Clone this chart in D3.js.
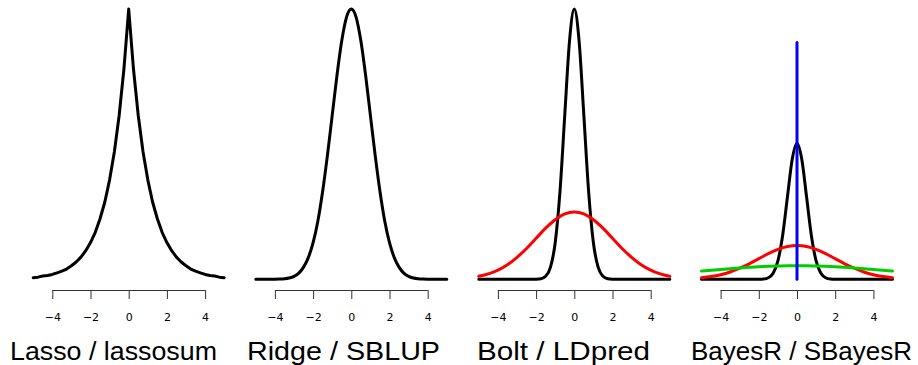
<!DOCTYPE html>
<html>
<head>
<meta charset="utf-8">
<script src="https://cdn.jsdelivr.net/npm/d3@7"></script>
<style>
  body { margin: 0; background: #fff; }
  .tick text { font-family: "DejaVu Sans", sans-serif; font-size: 11px; }
  .title { font-family: "Liberation Sans", Arial, sans-serif; font-size: 26px; }
</style>
</head>
<body>
<div id="frame_div"></div>
<script>
// Four prior shapes, one panel each

const FRAME_WIDTH = 918;
const FRAME_HEIGHT = 365;

// --- data ---
const TITLES = ["Lasso / lassosum", "Ridge / SBLUP", "Bolt / LDpred", "BayesR / SBayesR"];
const TICKS = [-4, -2, 0, 2, 4];

const X_FINE = [-5, -4.75, -4.5, -4.25, -4, -3.75, -3.5, -3.25, -3, -2.75, -2.5, -2.25, -2,
  -1.75, -1.5, -1.25, -1, -0.75, -0.5, -0.25, 0, 0.25, 0.5, 0.75, 1, 1.25, 1.5, 1.75, 2,
  2.25, 2.5, 2.75, 3, 3.25, 3.5, 3.75, 4, 4.25, 4.5, 4.75, 5];
const X_COARSE = [-5, -4.5, -4, -3.5, -3, -2.5, -2, -1.5, -1, -0.5, 0,
  0.5, 1, 1.5, 2, 2.5, 3, 3.5, 4, 4.5, 5];

// panel 1, double exponential
const LASSO_Y = [0.003, 0.004, 0.006, 0.007, 0.009, 0.012, 0.015, 0.019, 0.025, 0.032, 0.041,
  0.053, 0.068, 0.087, 0.112, 0.143, 0.184, 0.236, 0.303, 0.389, 0.5, 0.389, 0.303, 0.236,
  0.184, 0.143, 0.112, 0.087, 0.068, 0.053, 0.041, 0.032, 0.025, 0.019, 0.015, 0.012, 0.009,
  0.007, 0.006, 0.004, 0.003];
// panel 2, normal
const RIDGE_Y = [0, 0, 0, 0, 0.0001, 0.0004, 0.0009, 0.002, 0.0044, 0.009, 0.018, 0.032, 0.054,
  0.086, 0.130, 0.183, 0.242, 0.301, 0.352, 0.387, 0.399, 0.387, 0.352, 0.301, 0.242, 0.183,
  0.130, 0.086, 0.054, 0.032, 0.018, 0.009, 0.0044, 0.002, 0.0009, 0.0004, 0.0001, 0, 0, 0, 0];
// panels 3 and 4, narrow black component
const NARROW_Y = [0, 0, 0, 0, 0, 0, 0, 0, 0, 0, 0, 0, 0.0003, 0.0017, 0.0089, 0.035, 0.108,
  0.259, 0.484, 0.704, 0.798, 0.704, 0.484, 0.259, 0.108, 0.035, 0.0089, 0.0017, 0.0003,
  0, 0, 0, 0, 0, 0, 0, 0, 0, 0, 0, 0];
// red wide component
const RED_Y = [0.0088, 0.016, 0.027, 0.043, 0.065, 0.091, 0.121, 0.151, 0.176, 0.193, 0.199,
  0.193, 0.176, 0.151, 0.121, 0.091, 0.065, 0.043, 0.027, 0.016, 0.0088];
// green very wide component
const GREEN_Y = [0.0484, 0.0532, 0.0579, 0.0625, 0.0666, 0.0704, 0.0737, 0.0763, 0.0782, 0.0794,
  0.0798, 0.0794, 0.0782, 0.0763, 0.0737, 0.0704, 0.0666, 0.0625, 0.0579, 0.0532, 0.0484];
// blue point mass at zero
const SPIKE_X = [0, 0];
const SPIKE_Y = [0, 1.39];

// top of each panel's y range
const Y_TOP = [0.5, 0.399, 0.798, 1.586];

// --- layout ---
const ZERO_X = [128.7, 351.3, 574.3, 797];
const HALF_WIDTH = 95.5;            // pixels from 0 to 5
const BASE_Y = 279.3;
const TOP_Y = 9;
const AXIS_Y = 290;
const TITLE_X = [10, 247, 477, 691];
const TITLE_W = [207, 193, 173, 221];
const TITLE_Y = 360;

const BLACK = "#000000", RED = "#ff0000", GREEN = "#00cd00", BLUE = "#0000ff";

const zip = (xs, ys) => xs.map((x, i) => [x, ys[i]]);

// which curves go in which panel
const PANELS = [
  [{pts: zip(X_FINE, LASSO_Y), color: BLACK, curve: d3.curveLinear}],
  [{pts: zip(X_FINE, RIDGE_Y), color: BLACK, curve: d3.curveMonotoneX}],
  [{pts: zip(X_FINE, NARROW_Y), color: BLACK, curve: d3.curveMonotoneX},
   {pts: zip(X_COARSE, RED_Y), color: RED, curve: d3.curveMonotoneX}],
  [{pts: zip(X_FINE, NARROW_Y), color: BLACK, curve: d3.curveMonotoneX},
   {pts: zip(X_COARSE, RED_Y), color: RED, curve: d3.curveMonotoneX},
   {pts: zip(X_COARSE, GREEN_Y), color: GREEN, curve: d3.curveMonotoneX},
   {pts: zip(SPIKE_X, SPIKE_Y), color: BLUE, curve: d3.curveLinear}]
];

const FRAME = d3.select("#frame_div")
                  .append("svg")
                    .attr("width", FRAME_WIDTH)
                    .attr("height", FRAME_HEIGHT);

PANELS.forEach((curves, p) => {
  const X_SCALE = d3.scaleLinear()
                    .domain([-5, 5])
                    .range([ZERO_X[p] - HALF_WIDTH, ZERO_X[p] + HALF_WIDTH]);
  const Y_SCALE = d3.scaleLinear()
                    .domain([0, Y_TOP[p]])
                    .range([BASE_Y, TOP_Y]);

  const g = FRAME.append("g");

  curves.forEach((c) => {
    const line = d3.line()
                   .x((d) => X_SCALE(d[0]))
                   .y((d) => Y_SCALE(d[1]))
                   .curve(c.curve);
    g.append("path")
      .datum(c.pts)
      .attr("d", line)
      .attr("fill", "none")
      .attr("stroke", c.color)
      .attr("stroke-width", 3)
      .attr("stroke-linecap", "round")
      .attr("stroke-linejoin", "round");
  });

  // x axis, line only between first and last tick like R
  const axis = g.append("g")
                .attr("transform", `translate(0,${AXIS_Y})`)
                .call(d3.axisBottom(X_SCALE)
                        .tickValues(TICKS)
                        .tickSize(9)
                        .tickSizeOuter(0)
                        .tickPadding(14));
  axis.select(".domain").remove();
  axis.selectAll(".tick line").attr("stroke", "#333");
  axis.selectAll(".tick text").attr("fill", "#000");
  axis.append("line")
      .attr("x1", X_SCALE(TICKS[0]))
      .attr("x2", X_SCALE(TICKS[TICKS.length - 1]))
      .attr("y1", 0.5)
      .attr("y2", 0.5)
      .attr("stroke", "#333");

  g.append("text")
    .attr("class", "title")
    .attr("x", TITLE_X[p])
    .attr("y", TITLE_Y)
    .attr("textLength", TITLE_W[p])
    .attr("lengthAdjust", "spacingAndGlyphs")
    .attr("fill", "#000")
    .text(TITLES[p]);
});
</script>
</body>
</html>
